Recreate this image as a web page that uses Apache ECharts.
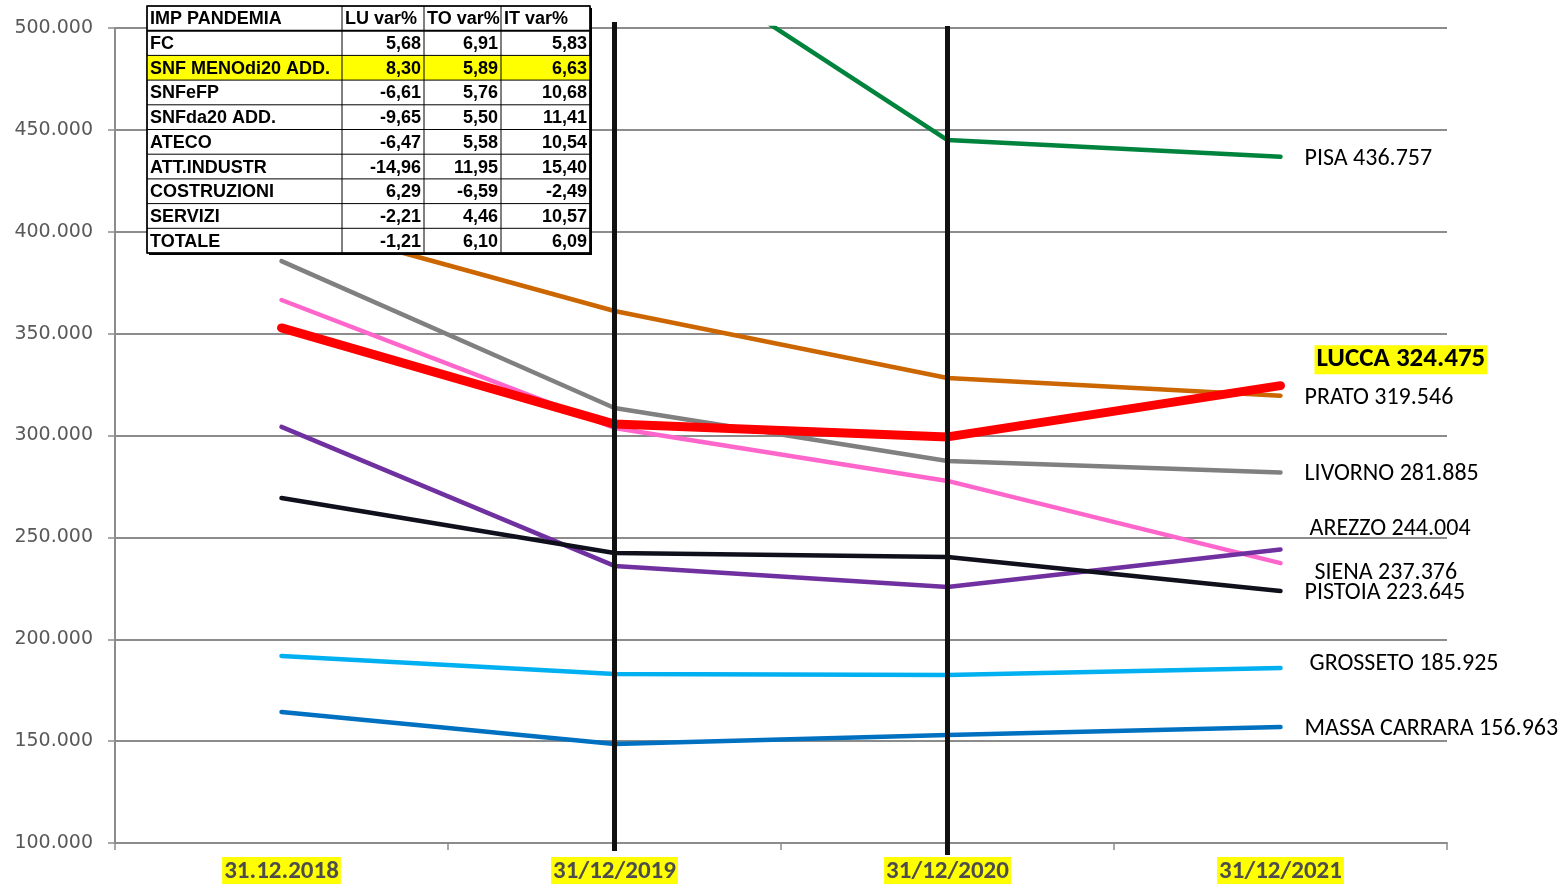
<!DOCTYPE html>
<html>
<head>
<meta charset="utf-8">
<title>Imprese Toscana</title>
<script src="https://cdn.jsdelivr.net/npm/echarts@6/dist/echarts.min.js"></script>
<style>
  html, body { margin: 0; padding: 0; background: #fff; }
  #chart { width: 1562px; height: 887px; }
</style>
</head>
<body>
<div id="chart"></div>
<script>
// --- dati ---
const categories = ['31.12.2018', '31/12/2019', '31/12/2020', '31/12/2021']
const yTicks = [100000, 500000, 50000] // min, max, intervallo

const pisa = [562000, 551500, 445000, 436757]
const prato = [406000, 361100, 328200, 319546]
const livorno = [385600, 313500, 287500, 281885]
const siena = [366500, 303700, 277700, 237376]
const lucca = [352800, 305600, 299300, 324475]
const arezzo = [304200, 236000, 225600, 244004]
const pistoia = [269300, 242300, 240400, 223645]
const grosseto = [191800, 182900, 182500, 185925]
const massaCarrara = [164300, 148600, 153000, 156963]

const tableHeader = ['IMP PANDEMIA', 'LU var%', 'TO var%', 'IT var%']
const tableRows = ['FC', 'SNF MENOdi20 ADD.', 'SNFeFP', 'SNFda20 ADD.', 'ATECO', 'ATT.INDUSTR', 'COSTRUZIONI', 'SERVIZI', 'TOTALE']
const luVar = ['5,68', '8,30', '-6,61', '-9,65', '-6,47', '-14,96', '6,29', '-2,21', '-1,21']
const toVar = ['6,91', '5,89', '5,76', '5,50', '5,58', '11,95', '-6,59', '4,46', '6,10']
const itVar = ['5,83', '6,63', '10,68', '11,41', '10,54', '15,40', '-2,49', '10,57', '6,09']
const highlightRow = 1

const markedYears = ['31/12/2019', '31/12/2020']

// --- grafico ---
const myChart = echarts.init(document.getElementById('chart'))

const fmt = v => {
  const s = String(Math.round(v))
  return s.slice(0, -3) + '.' + s.slice(-3)
}

const labelFont = 'Carlito, Lato, "Liberation Sans", sans-serif'

const mkSeries = (name, data, color, width, lbl) => ({
  name: name,
  type: 'line',
  data: data,
  symbol: 'none',
  z: width > 5 ? 4 : 3,
  lineStyle: { color: color, width: width, cap: 'round', join: 'round' },
  endLabel: Object.assign({
    show: true,
    formatter: () => name.toUpperCase() + ' ' + fmt(data[data.length - 1]),
    color: '#000',
    fontFamily: labelFont,
    fontSize: 24,
    distance: 24,
    offset: [0, 2]
  }, lbl || {})
})

const series = [
  mkSeries('Pisa', pisa, '#00843d', 4.5),
  mkSeries('Prato', prato, '#cc6600', 4.5),
  mkSeries('Livorno', livorno, '#808080', 4.5),
  mkSeries('Siena', siena, '#ff66cc', 4.5, { offset: [10, 10] }),
  mkSeries('Lucca', lucca, '#ff0000', 9, {
    offset: [10, -26], fontWeight: 'bold', fontSize: 27,
    backgroundColor: '#ffff00', padding: [2, 2, 0, 2]
  }),
  mkSeries('Arezzo', arezzo, '#7030a0', 4.5, { offset: [5, -21] }),
  mkSeries('Pistoia', pistoia, '#10101c', 4.5, { offset: [0, 2] }),
  mkSeries('Grosseto', grosseto, '#00b0f0', 4.5, { offset: [5, -4] }),
  mkSeries('Massa Carrara', massaCarrara, '#0070c0', 4.5, { offset: [0, 2] })
]

const option = {
  animation: false,
  backgroundColor: '#fff',
  grid: { left: 115, right: 115, top: 28, bottom: 44, containLabel: false },
  xAxis: {
    type: 'category',
    data: categories,
    boundaryGap: true,
    axisLine: { lineStyle: { color: '#8c8c8c', width: 2 } },
    axisTick: { show: true, length: 7, lineStyle: { color: '#8c8c8c', width: 1.5 } },
    axisLabel: {
      margin: 14,
      color: '#4d4d4d',
      fontFamily: '"Liberation Sans Narrow", "Arial Narrow", Carlito, sans-serif',
      fontWeight: 'bold',
      fontSize: 25,
      backgroundColor: '#ffff00',
      padding: [2, 2, 0, 2]
    }
  },
  yAxis: {
    type: 'value',
    min: yTicks[0],
    max: yTicks[1],
    interval: yTicks[2],
    axisLine: { show: true, lineStyle: { color: '#8c8c8c', width: 2 } },
    axisTick: { show: true, length: 7, lineStyle: { color: '#8c8c8c', width: 1.5 } },
    splitLine: { lineStyle: { color: '#8c8c8c', width: 2 } },
    axisLabel: {
      margin: 22,
      color: '#595959',
      fontFamily: '"DejaVu Sans", Verdana, sans-serif',
      fontSize: 19,
      formatter: v => fmt(v)
    }
  },
  series: series
}

myChart.setOption(option)

// linee verticali nere sugli anni e tabella in alto a sinistra
const buildGraphics = () => {
  const els = []
  const yTop = myChart.convertToPixel({ yAxisIndex: 0 }, yTicks[1])
  const yBot = myChart.convertToPixel({ yAxisIndex: 0 }, yTicks[0])
  markedYears.forEach((c, i) => {
    const x = myChart.convertToPixel({ xAxisIndex: 0 }, c)
    els.push({
      type: 'line', z: 50,
      shape: { x1: x, y1: yTop - (i === 0 ? 6 : 2), x2: x, y2: yBot + (i === 0 ? 8 : 12) },
      style: { stroke: '#111', lineWidth: 5 }
    })
  })

  // tabella
  const tx = 147, ty = 6
  const colW = [195, 82, 77, 89]
  const rowH = 24.7
  const nRows = tableRows.length + 1
  const totW = colW.reduce((a, b) => a + b, 0)
  const cellFont = 'bold 18px "Liberation Sans", Arial, sans-serif'

  // ombra / bordo spesso a destra e in basso
  els.push({ type: 'rect', z: 60, shape: { x: tx + 2, y: ty + 2, width: totW, height: rowH * nRows }, style: { fill: '#000' } })
  els.push({ type: 'rect', z: 61, shape: { x: tx, y: ty, width: totW, height: rowH * nRows }, style: { fill: '#fff', stroke: '#000', lineWidth: 1 } })
  els.push({
    type: 'rect', z: 61,
    shape: { x: tx, y: ty + rowH * (highlightRow + 1), width: totW, height: rowH },
    style: { fill: '#ffff00' }
  })

  const allRows = [tableHeader].concat(tableRows.map((r, i) => [r, luVar[i], toVar[i], itVar[i]]))
  allRows.forEach((row, r) => {
    let x = tx
    row.forEach((cell, c) => {
      const yc = ty + rowH * r + rowH / 2 + 1
      const left = r === 0 || c === 0
      els.push({
        type: 'text', z: 63,
        style: {
          text: cell,
          x: left ? x + 3 : x + colW[c] - 3,
          y: yc,
          align: left ? 'left' : 'right',
          verticalAlign: 'middle',
          font: cellFont,
          fill: '#000'
        }
      })
      x += colW[c]
    })
  })
  // griglia tabella
  for (let r = 1; r < nRows; r++) {
    const y = ty + rowH * r
    els.push({ type: 'line', z: 62, shape: { x1: tx, y1: y, x2: tx + totW, y2: y }, style: { stroke: '#000', lineWidth: r === 1 ? 2 : 1 } })
  }
  let cx = tx
  for (let c = 0; c < colW.length - 1; c++) {
    cx += colW[c]
    els.push({ type: 'line', z: 62, shape: { x1: cx, y1: ty, x2: cx, y2: ty + rowH * nRows }, style: { stroke: '#000', lineWidth: 1 } })
  }
  els.push({ type: 'rect', z: 62, shape: { x: tx, y: ty, width: totW, height: rowH * nRows }, style: { fill: 'none', stroke: '#000', lineWidth: 1.5 } })
  return els
}

myChart.setOption({ graphic: buildGraphics() })
</script>
</body>
</html>
